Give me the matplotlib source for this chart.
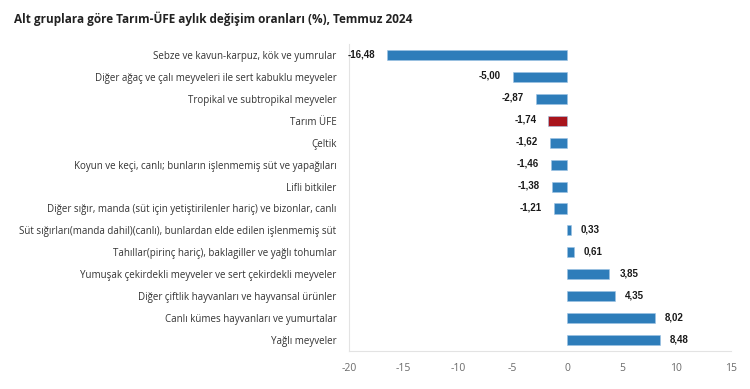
import numpy as np
import matplotlib.pyplot as plt

plt.rcParams["axes.unicode_minus"] = False

# veriler (yukaridan asagiya)
kategoriler = [
    "Sebze ve kavun-karpuz, kök ve yumrular",
    "Diğer ağaç ve çalı meyveleri ile sert kabuklu meyveler",
    "Tropikal ve subtropikal meyveler",
    "Tarım ÜFE",
    "Çeltik",
    "Koyun ve keçi, canlı; bunların işlenmemiş süt ve yapağıları",
    "Lifli bitkiler",
    "Diğer sığır, manda (süt için yetiştirilenler hariç) ve bizonlar, canlı",
    "Süt sığırları(manda dahil)(canlı), bunlardan elde edilen işlenmemiş süt",
    "Tahıllar(pirinç hariç), baklagiller ve yağlı tohumlar",
    "Yumuşak çekirdekli meyveler ve sert çekirdekli meyveler",
    "Diğer çiftlik hayvanları ve hayvansal ürünler",
    "Canlı kümes hayvanları ve yumurtalar",
    "Yağlı meyveler",
]
degerler = [-16.48, -5.00, -2.87, -1.74, -1.62, -1.46, -1.38, -1.21,
            0.33, 0.61, 3.85, 4.35, 8.02, 8.48]
vurgu = "Tarım ÜFE"

mavi = "#2e7dba"
kirmizi = "#a8141c"

fig = plt.figure(figsize=(7.5, 3.89), dpi=100)
ax = fig.add_axes([0.4653, 0.0977, 0.5093, 0.789])

y = np.arange(len(kategoriler))
renkler = [kirmizi if k == vurgu else mavi for k in kategoriler]
ax.barh(y, degerler, height=0.46, color=renkler, edgecolor="#9cc3e4",
        linewidth=0.4)

for yi, v in zip(y, degerler):
    txt = ("%.2f" % v).replace(".", ",")
    if v < 0:
        ax.annotate(txt, (v, yi), xytext=(-12, 1), textcoords="offset pixels",
                    ha="right", va="center", fontsize=7, fontweight="bold",
                    family="Liberation Sans", color="#1a1a1a")
    else:
        ax.annotate(txt, (v, yi), xytext=(10, 1), textcoords="offset pixels",
                    ha="left", va="center", fontsize=7, fontweight="bold",
                    family="Liberation Sans", color="#1a1a1a")

ax.set_xlim(-20, 15)
ax.set_ylim(len(kategoriler) - 0.5, -0.5)
ax.set_xticks(np.arange(-20, 16, 5))
ax.set_yticks(y)
ax.set_yticklabels(kategoriler, family="Open Sans", fontsize=7.05,
                   color="#333333")
ax.tick_params(axis="y", length=0, pad=9)
ax.tick_params(axis="x", length=0, pad=9, labelsize=7.5, labelcolor="#6a6a6a")
for lbl in ax.get_xticklabels():
    lbl.set_family("Open Sans")

for s in ["top", "right"]:
    ax.spines[s].set_visible(False)
ax.spines["left"].set_color("#e3e3e3")
ax.spines["bottom"].set_color("#e3e3e3")
ax.spines["left"].set_linewidth(0.8)
ax.spines["bottom"].set_linewidth(0.8)

fig.text(0.019, 0.953, "Alt gruplara göre Tarım-ÜFE aylık değişim oranları (%), Temmuz 2024",
         fontsize=8.5, fontweight="bold", family="Open Sans", color="#222222",
         va="center")

fig.savefig("out.png", dpi=100)
